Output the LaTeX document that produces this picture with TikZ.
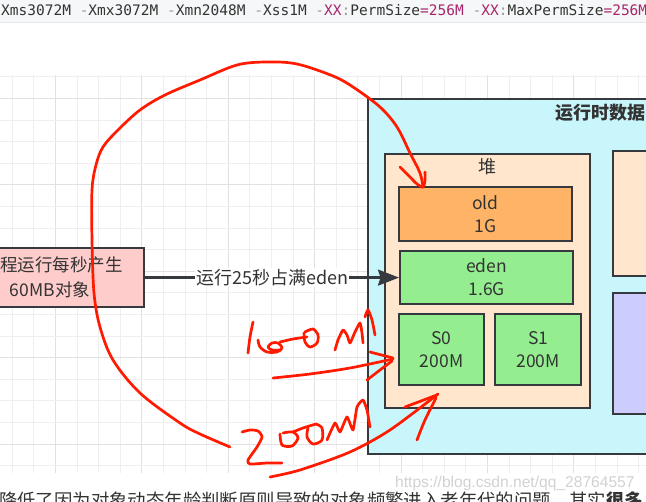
\documentclass[tikz,border=0pt]{standalone}
\usepackage{fontspec}
\setmainfont{Noto Sans CJK SC}
\newfontfamily\codefont{DejaVu Sans Mono}
\newfontfamily\wmfont{Liberation Sans}
\usetikzlibrary{arrows.meta}
\definecolor{bordc}{HTML}{36393D}
\definecolor{txtc}{HTML}{333333}
\definecolor{redc}{HTML}{FF1A00}
\definecolor{cyanc}{HTML}{C9F6FB}
\definecolor{peachc}{HTML}{FFE6CC}
\definecolor{orangec}{HTML}{FFB366}
\definecolor{greenc}{HTML}{94EE90}
\definecolor{pinkc}{HTML}{FFCCCC}
\definecolor{lavc}{HTML}{CCCCFF}
\definecolor{gridminor}{HTML}{EFEFEF}
\definecolor{gridmajor}{HTML}{E1E1E1}
\definecolor{topbg}{HTML}{F6F7F8}
\definecolor{sepc}{HTML}{E6E6E6}
\definecolor{crim}{HTML}{A8246A}
\definecolor{dashc}{HTML}{9A9A9A}
\definecolor{wmc}{HTML}{D2D2D2}
\tikzset{
  boxst/.style={draw=bordc, line width=2.2pt, inner sep=0pt, anchor=north west,
    align=center, font=\fontsize{17.5}{23}\selectfont, text=txtc},
  redst/.style={draw=redc, line width=2.7pt, line cap=round, line join=round},
  minorgrid/.style={draw=gridminor, line width=1pt},
  majorgrid/.style={draw=gridmajor, line width=1pt},
  conn/.style={draw=bordc, line width=2.2pt, -{Stealth[length=21pt,width=16pt,inset=2.5pt]}},
  lbl/.style={fill=white, inner sep=1pt, font=\fontsize{18}{20}\selectfont, text=txtc},
  plain/.style={inner sep=0pt, font=\fontsize{17.5}{23}\selectfont, text=txtc},
}
\begin{document}
\begin{tikzpicture}[x=1pt,y=-1pt]
\useasboundingbox (0,0) rectangle (646,502);
\clip (0,0) rectangle (646,502);
\fill[white] (0,0) rectangle (646,502);
% top code strip
\fill[topbg] (0,0) rectangle (646,22);
\draw[sepc, line width=1pt] (0,22.5) -- (646,22.5);
\node[anchor=west, inner sep=0pt, font=\codefont\fontsize{14.5}{16}\selectfont, text=txtc] (code) at (1,10)
 {Xms3072M \textcolor{dashc}{-}Xmx3072M \textcolor{dashc}{-}Xmn2048M \textcolor{dashc}{-}Xss1M \textcolor{dashc}{-}\textcolor{crim}{XX}\textcolor{dashc}{:}PermSize\textcolor{crim}{=256M} \textcolor{dashc}{-}\textcolor{crim}{XX}\textcolor{dashc}{:}MaxPermSize\textcolor{crim}{=256M}};
% grid
\foreach \k in {0,...,29} {
  \pgfmathsetmacro\xx{12.2+21.6*\k}
  \pgfmathtruncatemacro\m{mod(\k,4)}
  \ifnum\m=2 \draw[majorgrid] (\xx,75) -- (\xx,473); \else \draw[minorgrid] (\xx,75) -- (\xx,473); \fi
}
\foreach \k in {0,...,18} {
  \pgfmathsetmacro\yy{77+21.6*\k}
  \pgfmathtruncatemacro\m{mod(\k,4)}
  \ifnum\m=1 \draw[majorgrid] (0,\yy) -- (646,\yy); \else \draw[minorgrid] (0,\yy) -- (646,\yy); \fi
}
% bottom text and watermark
\node[anchor=west, inner sep=0pt, font=\wmfont\fontsize{15.6}{18}\selectfont, text=wmc] (wm) at (395,483) {https://blog.csdn.net/qq\_28764557};
\node[anchor=base west, inner sep=0pt, font=\fontsize{18.4}{20}\selectfont, text=txtc] (bottom) at (-1,508)
 {降低了因为对象动态年龄判断原则导致的对象频繁进入老年代的问题，其实\textbf{很多}};
% source box
\node[boxst, fill=pinkc, minimum width=186pt, minimum height=59pt] (src) at (-43,247) {};
\node[plain] (srcA) at (61.5,265) {程运行每秒产生};
\node[plain] (srcB) at (50,290) {60MB对象};
% runtime data area
\node[boxst, fill=cyanc, minimum width=300pt, minimum height=355pt] (rt) at (367,98) {};
\node[anchor=west, inner sep=0pt, font=\bfseries\fontsize{18}{20}\selectfont, text=txtc] (rttitle) at (555,113) {运行时数据区};
\node[boxst, fill=peachc, minimum width=205pt, minimum height=254pt] (heap) at (384,153) {};
\node[plain, font=\fontsize{18}{20}\selectfont] (heaplbl) at (487,167) {堆};
\node[boxst, fill=orangec, minimum width=173pt, minimum height=54pt] (old) at (398,186) {old\\1G};
\node[boxst, fill=greenc, minimum width=173pt, minimum height=53pt] (eden) at (399,250) {eden\\1.6G};
\node[boxst, fill=greenc, minimum width=85pt, minimum height=71pt] (s0) at (398,313) {S0\\200M};
\node[boxst, fill=greenc, minimum width=86pt, minimum height=71pt] (s1) at (494,313) {S1\\200M};
\node[boxst, fill=peachc, minimum width=60pt, minimum height=125pt] (rtop) at (612,150) {};
\node[boxst, fill=lavc, minimum width=60pt, minimum height=121pt] (rbot) at (612,292) {};
% connector
\draw[conn] (src.east) -- node[lbl] (connlbl) {运行25秒占满eden} (eden.west);
% red freehand annotations
\draw[redst] plot[smooth, tension=0.55] coordinates {(230,447) (200,434) (180,423) (140,393) (113,360) (100,327) (94,293) (92,240) (92,190) (96,165) (103,147) (118,130) (140,110) (165,95) (200,80) (237,65) (267,62) (297,64) (333,76) (353,87) (380,107) (397,127) (410,153) (420,173) (423,187)};
\draw[redst] plot[smooth, tension=0.5] coordinates {(400,167) (410,177) (417,184) (423,187) (425,180) (425,172)};
% "160M"-like scribble
\draw[redst] plot[smooth, tension=0.5] coordinates {(253,322) (250,337) (248,353)};
\draw[redst] plot[smooth, tension=0.5] coordinates {(258,340) (260,347) (267,352) (277,352) (282,348) (278,343) (272,343) (268,347) (272,350) (280,350)};
\draw[redst] plot[smooth, tension=0.5] coordinates {(280,342) (293,339) (307,337)};
\draw[redst] plot[smooth, tension=0.5] coordinates {(305,332) (313,329) (318,335) (317,343) (310,347) (305,342) (304,333)};
\draw[redst] plot[smooth, tension=0.3] coordinates {(335,350) (338,340) (343,330) (347,335) (350,343) (355,332) (360,323) (362,333) (363,343)};
\draw[redst] plot[smooth, tension=0.4] coordinates {(365,317) (368,310) (372,320) (375,335)};
% arrow to S0
\draw[redst] plot[smooth, tension=0.5] coordinates {(273,378) (310,374) (350,368) (393,359)};
\draw[redst] (370,352) -- (393,358);
\draw[redst] plot[smooth, tension=0.5] coordinates {(367,380) (380,370) (392,361)};
% "200M" scribble
\draw[redst] plot[smooth, tension=0.4] coordinates {(242,432) (250,430) (258,431) (262,437) (257,447) (248,460) (250,464) (267,463) (282,463)};
\draw[redst] plot[smooth, tension=0.5] coordinates {(280,434) (282,445) (292,446) (298,438) (293,432) (283,433)};
\draw[redst] plot[smooth, tension=0.5] coordinates {(293,432) (303,428) (316,424)};
\draw[redst] plot[smooth, tension=0.5] coordinates {(316,424) (322,428) (322,440) (313,444) (307,437) (308,428)};
\draw[redst] plot[smooth, tension=0.3] coordinates {(327,440) (335,423) (340,432) (347,417) (353,430) (357,407) (363,400) (367,410) (370,427)};
% arrow to heap bottom
\draw[redst] plot[smooth, tension=0.5] coordinates {(270,477) (300,470) (350,452) (390,430) (438,394)};
\draw[redst] (405,407) -- (437,395);
\draw[redst] plot[smooth, tension=0.5] coordinates {(417,440) (425,420) (436,398)};
\end{tikzpicture}
\end{document}
